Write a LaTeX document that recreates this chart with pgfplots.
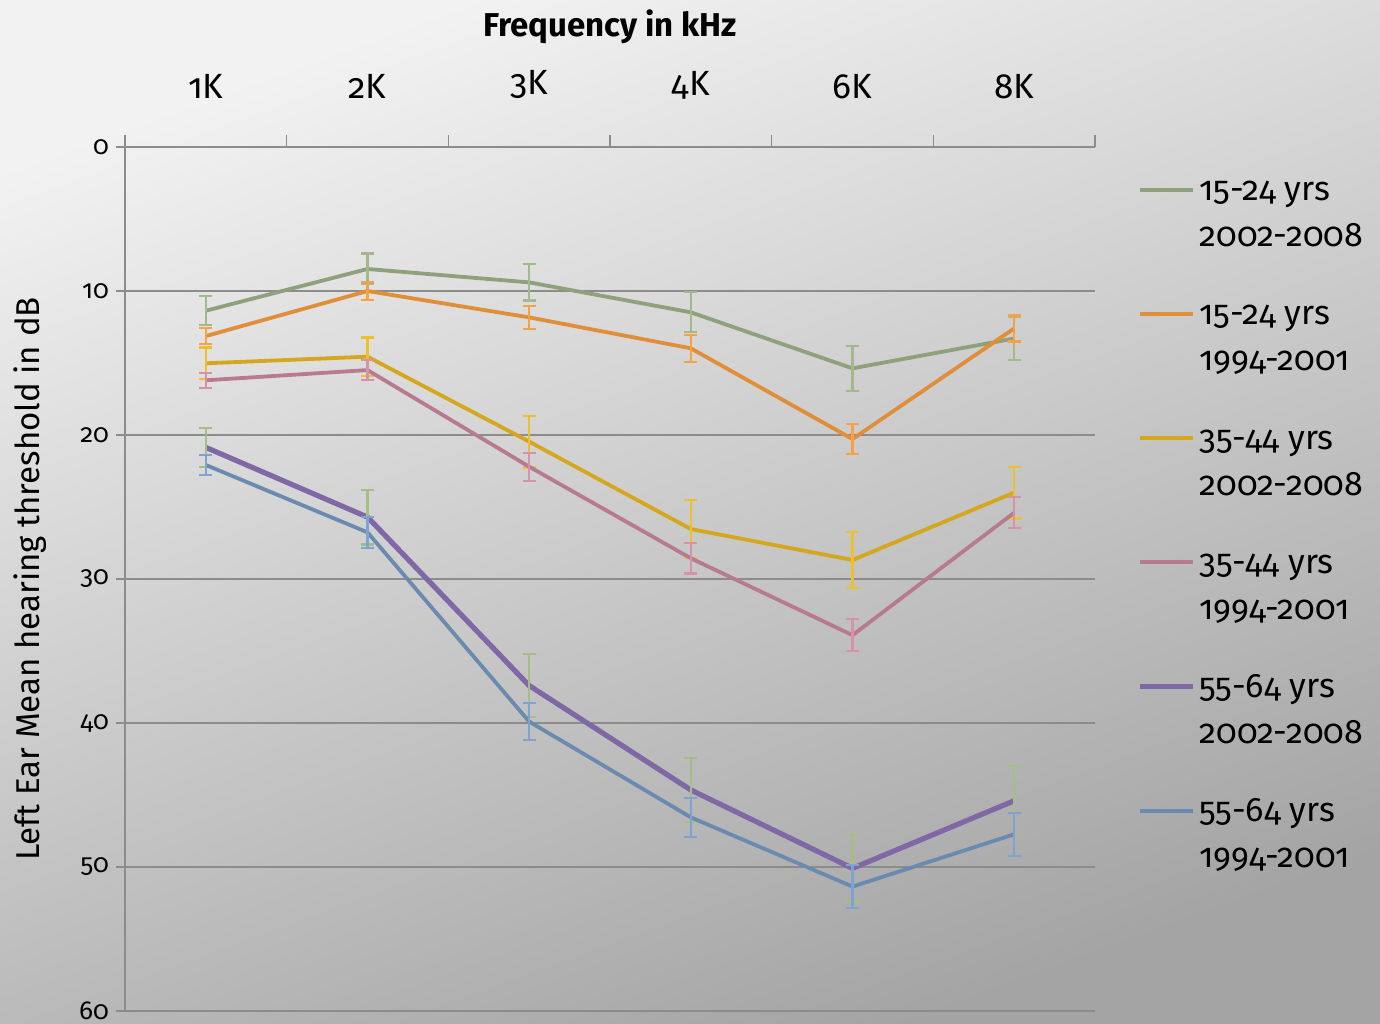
\documentclass[border=0pt]{standalone}
\usepackage{fontspec}
\setmainfont{Fira Sans}[Numbers=OldStyle]
\usepackage{pgfplots}
\pgfplotsset{compat=1.18}
\definecolor{bgtop}{HTML}{F2F2F2}
\definecolor{bgbot}{HTML}{A4A4A4}
\definecolor{axisgray}{HTML}{8C8C8C}
\definecolor{cA}{HTML}{8EA07C}\definecolor{cAe}{HTML}{A3B98B}
\definecolor{cB}{HTML}{E08F38}\definecolor{cBe}{HTML}{F5A244}
\definecolor{cC}{HTML}{D4A71C}\definecolor{cCe}{HTML}{EDC12E}
\definecolor{cD}{HTML}{B87A90}\definecolor{cDe}{HTML}{D891A9}
\definecolor{cE}{HTML}{8068A6}\definecolor{cEe}{HTML}{A6BE86}
\definecolor{cF}{HTML}{6A8AB0}\definecolor{cFe}{HTML}{7FA3D0}
\pgfplotsset{
  eb/.style n args={3}{color=#1, line width=#3, no markers,
    error bars/.cd, y dir=both, y explicit,
    error bar style={color=#2, line width=1.1pt},
    error mark options={rotate=90, mark size=3.3pt, line width=1.1pt, draw=#2}},
}
\begin{document}
\begin{tikzpicture}
\shade[top color=bgtop, bottom color=bgbot, shading angle=20] (0pt,0pt) rectangle (690pt,-511.5pt);
\begin{axis}[
  at={(62.5pt,-73.5pt)}, anchor=north west,
  scale only axis, width=485pt, height=432pt,
  y dir=reverse,
  xmin=0.5, xmax=6.5, ymin=0, ymax=60,
  axis x line=top, axis y line=left,
  axis line style={-, draw=axisgray, line width=0.8pt},
  xtick={1,2,3,4,5,6}, xticklabels={1K,2K,3K,4K,6K,8K},
  minor xtick={0.5,1.5,2.5,3.5,4.5,5.5,6.5},
  ytick={0,10,20,30,40,50,60},
  tick align=outside,
  major tick length=4.5pt, minor tick length=6pt,
  tick style={draw=axisgray, line width=0.8pt},
  every major x tick/.append style={draw=none},
  ymajorgrids, major grid style={draw=axisgray, line width=0.8pt},
  /pgf/number format/assume math mode=true,
  xticklabel style={font=\fontsize{17.5}{21}\selectfont, yshift=16pt},
  yticklabel style={font=\fontsize{13}{15}\selectfont},
  title={\bfseries Frequency in kHz},
  title style={at={(axis description cs:0.5,1)}, anchor=base, yshift=49.5pt, font=\fontsize{16.5}{20}\selectfont},
  ylabel={Left Ear Mean hearing threshold in dB},
  ylabel style={at={(axis description cs:-0.098,0.5)}, anchor=center, font=\fontsize{16.5}{20}\selectfont},
  legend style={at={(axis description cs:1,1)}, anchor=north west, xshift=21pt, yshift=-8.5pt,
    draw=none, fill=none, inner sep=0pt, row sep=40.5pt,
    font=\fontsize{17}{23}\selectfont, cells={anchor=base west}},
  legend image code/.code={\draw[#1] (0pt,5.5pt) -- (26.5pt,5.5pt);},
]
\addplot[eb={cA}{cAe}{1.9pt}] coordinates {(1,11.37) +- (0,1.0) (2,8.47) +- (0,1.07) (3,9.4) +- (0,1.26) (4,11.48) +- (0,1.39) (5,15.37) +- (0,1.56) (6,13.3) +- (0,1.5)};
\addlegendentry{\begin{tabular}[t]{@{}l@{}}15-24 yrs\\2002-2008\end{tabular}}
\addplot[eb={cB}{cBe}{1.9pt}] coordinates {(1,13.13) +- (0,0.55) (2,10.0) +- (0,0.6) (3,11.83) +- (0,0.8) (4,13.98) +- (0,0.93) (5,20.28) +- (0,1.02) (6,12.6) +- (0,0.9)};
\addlegendentry{\begin{tabular}[t]{@{}l@{}}15-24 yrs\\1994-2001\end{tabular}}
\addplot[eb={cC}{cCe}{1.9pt}] coordinates {(1,15.02) +- (0,1.1) (2,14.56) +- (0,1.33) (3,20.46) +- (0,1.8) (4,26.53) +- (0,2.0) (5,28.68) +- (0,1.95) (6,24.0) +- (0,1.8)};
\addlegendentry{\begin{tabular}[t]{@{}l@{}}35-44 yrs\\2002-2008\end{tabular}}
\addplot[eb={cD}{cDe}{1.9pt}] coordinates {(1,16.2) +- (0,0.52) (2,15.49) +- (0,0.7) (3,22.2) +- (0,0.97) (4,28.56) +- (0,1.06) (5,33.9) +- (0,1.1) (6,25.4) +- (0,1.08)};
\addlegendentry{\begin{tabular}[t]{@{}l@{}}35-44 yrs\\1994-2001\end{tabular}}
\addplot[eb={cE}{cEe}{2.6pt}] coordinates {(1,20.86) +- (0,1.34) (2,25.7) +- (0,1.9) (3,37.4) +- (0,2.2) (4,44.65) +- (0,2.23) (5,50.09) +- (0,2.3) (6,45.4) +- (0,2.4)};
\addlegendentry{\begin{tabular}[t]{@{}l@{}}55-64 yrs\\2002-2008\end{tabular}}
\addplot[eb={cF}{cFe}{1.9pt}] coordinates {(1,22.08) +- (0,0.7) (2,26.76) +- (0,1.07) (3,39.9) +- (0,1.3) (4,46.55) +- (0,1.34) (5,51.36) +- (0,1.5) (6,47.73) +- (0,1.5)};
\addlegendentry{\begin{tabular}[t]{@{}l@{}}55-64 yrs\\1994-2001\end{tabular}}
\end{axis}
\pgfresetboundingbox
\useasboundingbox (0pt,0pt) rectangle (690pt,-511.5pt);
\end{tikzpicture}
\end{document}
